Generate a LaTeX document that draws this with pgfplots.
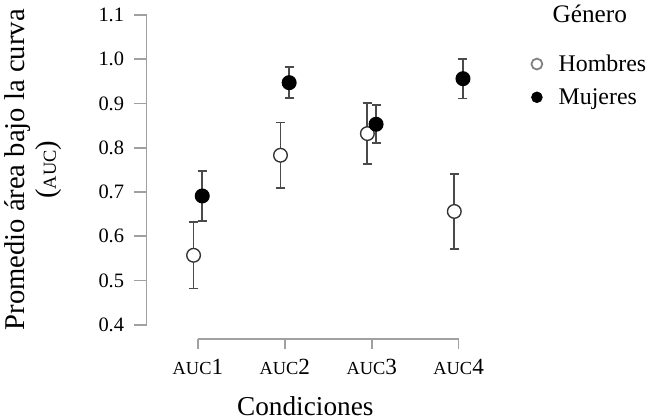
\documentclass[border=0pt]{standalone}
\usepackage{fontspec}
\setmainfont{Liberation Serif}
\usepackage{pgfplots}
\pgfplotsset{compat=1.18}
\definecolor{axisgray}{HTML}{A0A0A0}
\definecolor{errgray}{HTML}{4A4A4A}
\newcommand{\smc}[1]{{\fontsize{13.5}{16}\selectfont #1}}

\begin{document}
\begin{tikzpicture}
\begin{axis}[
  scale only axis, width=244.8pt, height=227.25pt,
  xmin=0.41, xmax=4.25, ymin=0.4, ymax=1.1,
  clip=false,
  axis lines*=left,
  x axis line style={draw=none},
  y axis line style={draw=axisgray, line width=1.2pt, -},
  tick align=outside,
  major tick length=9pt,
  ytick={0.4,0.5,0.6,0.7,0.8,0.9,1.0,1.1},
  ytick style={draw=axisgray, line width=1.2pt},
  yticklabel style={font=\fontsize{15}{18}\selectfont,
    /pgf/number format/.cd, fixed, fixed zerofill, precision=1},
  yticklabel shift=4pt,
  /pgf/number format/assume math mode=true,
  xtick={1,2,3,4},
  xtick style={draw=none},
  xticklabels={\smc{AUC}1, \smc{AUC}2, \smc{AUC}3, \smc{AUC}4},
  xticklabel style={yshift=-13pt, font=\fontsize{17}{20}\selectfont},
  xlabel={Condiciones},
  xlabel style={font=\fontsize{20}{23}\selectfont, xshift=-6pt, yshift=-8.5pt},
  ylabel={Promedio área bajo la curva\\(\smc{AUC})},
  ylabel style={font=\fontsize{21}{23}\selectfont, align=center},
  ylabel shift=20pt,
  legend style={draw=none, fill=none, font=\fontsize{17.5}{20}\selectfont,
    at={(axis description cs:1.14,0.89)}, anchor=north west, row sep=7pt,
    /tikz/every odd column/.append style={column sep=10pt}},
  legend cell align=left,
  error bars/error bar style={draw=errgray, line width=1.3pt},
  error bars/error mark options={rotate=90, mark size=3.3pt, line width=1.3pt, draw=errgray},
]
% Hombres
\addplot[forget plot, only marks, mark=*, mark size=5pt,
  mark options={draw=black!80, fill=white, line width=1pt},
  error bars/.cd, y dir=both, y explicit]
  coordinates {
    (0.95,0.557) +- (0,0.075)
    (1.95,0.783) +- (0,0.074)
    (2.95,0.832) +- (0,0.069)
    (3.95,0.656) +- (0,0.085)
  };
% Mujeres
\addplot[forget plot, only marks, mark=*, mark size=5pt,
  mark options={draw=black, fill=black, line width=1pt},
  error bars/.cd, y dir=both, y explicit]
  coordinates {
    (1.05,0.691) +- (0,0.057)
    (2.05,0.947) +- (0,0.035)
    (3.05,0.853) +- (0,0.043)
    (4.05,0.956) +- (0,0.045)
  };
\addlegendimage{only marks, mark=*, mark size=4pt, mark options={draw=gray, fill=white, line width=1.3pt}}
\addlegendentry{Hombres}
\addlegendimage{only marks, mark=*, mark size=4pt, mark options={draw=black, fill=black}}
\addlegendentry{Mujeres}
% x axis (range frame)
\draw[axisgray, line width=1.2pt] (axis cs:1,0.368) -- (axis cs:4,0.368);
\draw[axisgray, line width=1.2pt] (axis cs:1,0.368) -- ([yshift=-7.5pt]axis cs:1,0.368);
\draw[axisgray, line width=1.2pt] (axis cs:2,0.368) -- ([yshift=-7.5pt]axis cs:2,0.368);
\draw[axisgray, line width=1.2pt] (axis cs:3,0.368) -- ([yshift=-7.5pt]axis cs:3,0.368);
\draw[axisgray, line width=1.2pt] (axis cs:4,0.368) -- ([yshift=-7.5pt]axis cs:4,0.368);
\node[anchor=base, font=\fontsize{18.5}{21}\selectfont] at (axis description cs:1.328,0.977) {Género};
\end{axis}
\end{tikzpicture}
\end{document}
